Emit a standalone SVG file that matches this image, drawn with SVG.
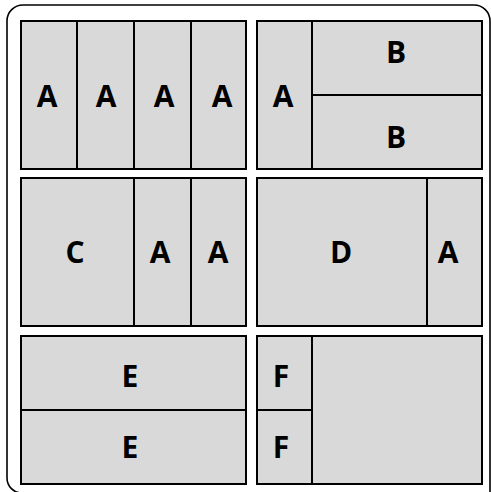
<svg xmlns="http://www.w3.org/2000/svg" width="491" height="492" viewBox="0 0 491 492">
<style>
.cell{fill:#d9d9d9;stroke:#000;stroke-width:2}
.ln{stroke:#000;stroke-width:2;fill:none}
.lb{font-family:"Open Sans","Liberation Sans",sans-serif;font-weight:bold;font-size:30px;text-anchor:middle;fill:#000}
</style>
<path d="M22 493 A15 15 0 0 1 7 478 L7 21 A16 16 0 0 1 23 5 L474 5 A16 16 0 0 1 490 21 L490 495" fill="#fff" stroke="#000" stroke-width="1.6"/>
<g id="panel1">
<rect class="cell" x="21" y="21" width="225" height="148"/>
<line class="ln" x1="77" y1="21" x2="77" y2="169"/>
<line class="ln" x1="134" y1="21" x2="134" y2="169"/>
<line class="ln" x1="191" y1="21" x2="191" y2="169"/>
<text class="lb" x="47" y="107">A</text>
<text class="lb" x="106" y="107">A</text>
<text class="lb" x="164" y="107">A</text>
<text class="lb" x="222" y="107">A</text>
</g>
<g id="panel2">
<rect class="cell" x="257" y="21" width="225" height="148"/>
<line class="ln" x1="312" y1="21" x2="312" y2="169"/>
<line class="ln" x1="312" y1="95" x2="482" y2="95"/>
<text class="lb" x="283" y="107">A</text>
<text class="lb" x="396" y="63">B</text>
<text class="lb" x="396" y="148">B</text>
</g>
<g id="panel3">
<rect class="cell" x="21" y="178" width="225" height="148"/>
<line class="ln" x1="134" y1="178" x2="134" y2="326"/>
<line class="ln" x1="191" y1="178" x2="191" y2="326"/>
<text class="lb" x="75" y="263">C</text>
<text class="lb" x="160" y="263">A</text>
<text class="lb" x="218" y="263">A</text>
</g>
<g id="panel4">
<rect class="cell" x="257" y="178" width="225" height="148"/>
<line class="ln" x1="427" y1="178" x2="427" y2="326"/>
<text class="lb" x="341" y="263">D</text>
<text class="lb" x="448" y="263">A</text>
</g>
<g id="panel5">
<rect class="cell" x="21" y="336" width="225" height="148"/>
<line class="ln" x1="21" y1="410" x2="246" y2="410"/>
<text class="lb" x="130" y="387">E</text>
<text class="lb" x="130" y="458">E</text>
</g>
<g id="panel6">
<rect class="cell" x="257" y="336" width="225" height="148"/>
<line class="ln" x1="312" y1="336" x2="312" y2="484"/>
<line class="ln" x1="257" y1="410" x2="312" y2="410"/>
<text class="lb" x="281" y="387">F</text>
<text class="lb" x="281" y="458">F</text>
</g>
<g id="connectors"></g>
</svg>
